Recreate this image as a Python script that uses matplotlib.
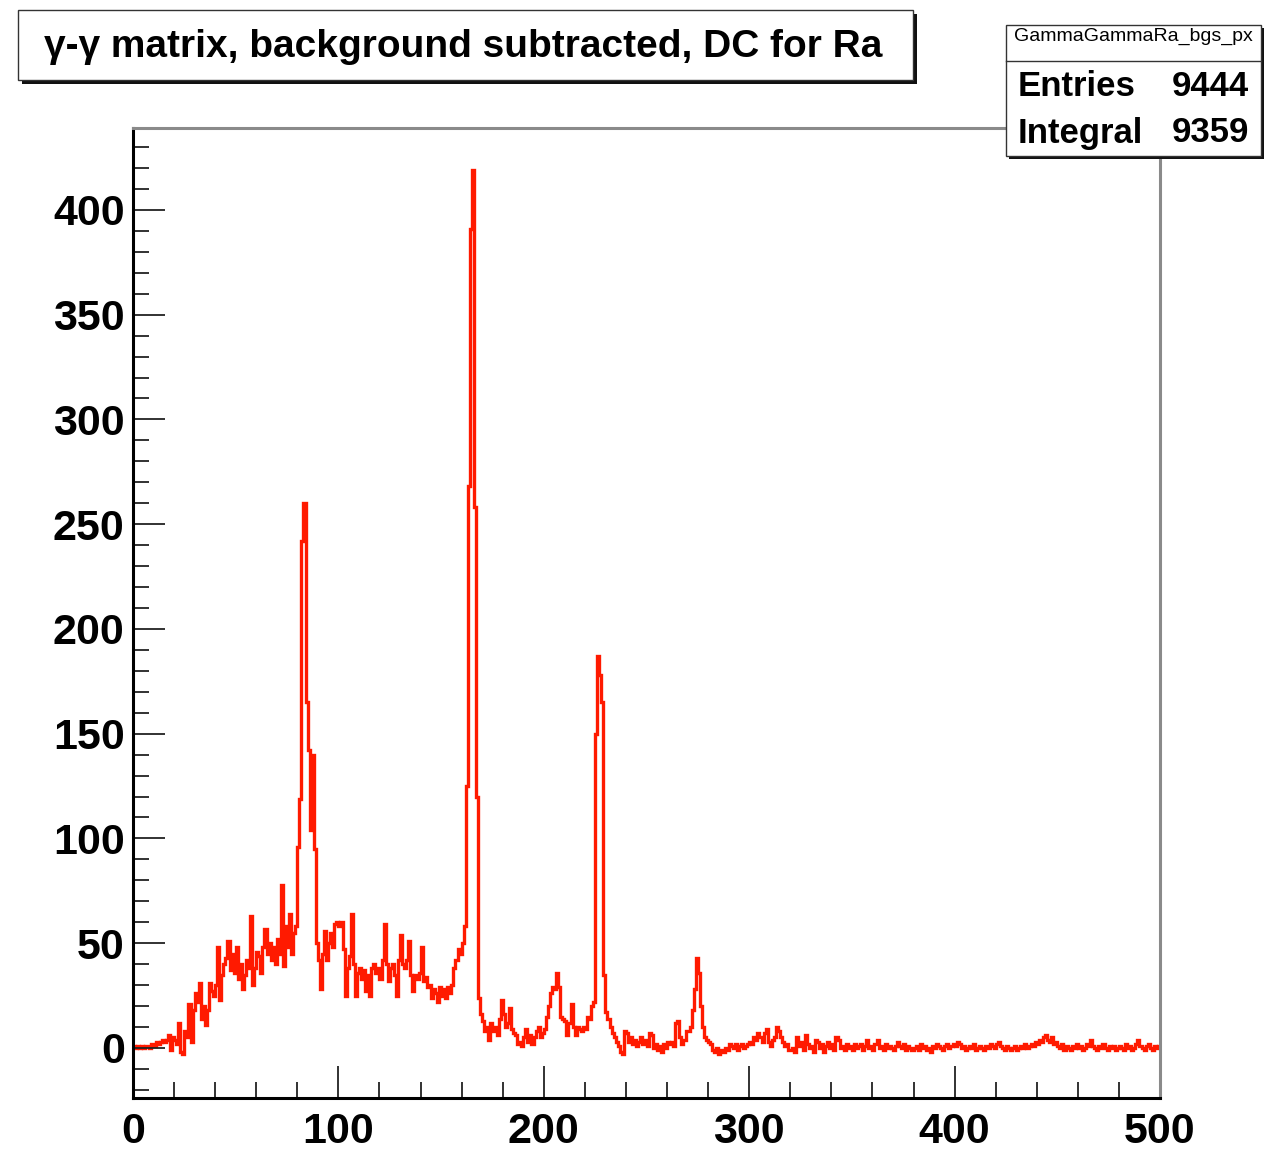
import numpy as np
import matplotlib
matplotlib.use("Agg")
import matplotlib.pyplot as plt
from matplotlib.patches import Rectangle
from matplotlib.ticker import MultipleLocator

# Background-subtracted gamma-gamma projection, 1 unit per bin (0..500)
counts_000_099 = [
    1, 0, 1, 0, 1, 0, 1, 1, 0, 2, 1, 3, 2, 3, 4, 3, 4, 6, -1, 5,
    4, 2, 12, -2, -3, 8, 5, 21, 3, 18, 26, 22, 31, 14, 20, 11, 18, 31, 27, 25,
    30, 48, 23, 35, 40, 43, 51, 37, 45, 36, 48, 33, 40, 28, 35, 42, 38, 63, 30, 38,
    46, 44, 36, 48, 57, 45, 50, 42, 48, 40, 52, 45, 78, 39, 58, 48, 64, 45, 55, 58,
    96, 119, 242, 260, 165, 142, 104, 140, 95, 50, 42, 28, 45, 56, 42, 50, 55, 48, 59, 60,
]
counts_100_199 = [
    58, 60, 47, 25, 38, 44, 64, 40, 25, 36, 38, 33, 37, 27, 35, 25, 38, 40, 36, 38,
    33, 42, 59, 40, 32, 38, 40, 35, 25, 42, 54, 40, 38, 42, 51, 35, 27, 35, 33, 36,
    48, 32, 34, 29, 30, 24, 28, 26, 22, 29, 25, 28, 24, 29, 26, 30, 38, 42, 47, 45,
    50, 58, 125, 268, 391, 419, 258, 120, 24, 16, 13, 8, 10, 4, 12, 8, 10, 6, 14, 23,
    16, 10, 12, 19, 9, 7, 6, 2, 3, 1, 5, 9, 3, 6, 2, 5, 8, 10, 5, 7,
]
counts_200_299 = [
    9, 15, 20, 26, 29, 28, 36, 29, 15, 14, 13, 6, 12, 21, 10, 6, 10, 9, 8, 10,
    9, 15, 14, 20, 22, 150, 187, 178, 165, 35, 17, 14, 10, 7, 5, 3, 1, -2, -3, 8,
    7, 3, 5, 2, 4, 1, 3, 5, 2, 4, 1, 7, 6, 0, 2, -1, 1, -2, 2, 0,
    3, 2, 3, 1, 12, 13, 5, 2, 4, 8, 8, 10, 18, 28, 43, 36, 20, 10, 5, 4,
    3, 2, -1, -2, 0, -3, -1, -2, 0, -1, 2, 1, 0, 2, -1, 1, 2, 0, 1, 2,
]
counts_300_399 = [
    3, 2, 5, 4, 7, 5, 3, 7, 9, 3, 1, 4, 5, 10, 8, 5, 3, 1, 2, -1,
    -1, 0, -2, 5, 1, 3, -1, 6, 2, 0, 1, -2, 4, 3, 0, 2, -2, 1, 3, 0,
    2, -1, 5, 4, 0, 1, -1, 2, 0, 1, -1, 2, 0, 1, 2, -1, 1, 4, 0, 1,
    -1, 2, 4, 0, 1, -1, 2, 0, 1, 0, -1, 1, 3, 1, 0, 2, -1, 1, 0, -1,
    0, 1, -1, 2, 0, 1, -1, 0, -2, 1, 0, 2, 1, 0, -1, 1, 2, 0, 1, 2,
]
counts_400_499 = [
    1, 3, 2, 0, 1, -1, 0, 1, 0, 2, -1, 0, 1, 0, -1, 1, 0, 2, 1, 0,
    2, 3, 1, 0, -1, 1, 0, -1, 0, 1, -1, 0, 1, 0, 2, 0, 1, 2, 1, 3,
    2, 4, 3, 5, 6, 4, 3, 5, 2, 3, 1, 0, 2, -1, 1, 0, -1, 1, 0, 2,
    0, 1, -1, 0, 2, 1, 4, 1, 0, -1, 1, 0, 2, 0, -1, 1, 0, 1, -1, 0,
    1, 0, -1, 2, 0, 1, -1, 0, 2, 4, 1, 0, -1, 1, 2, 0, -1, 1, 0, 1,
]
counts = np.array(counts_000_099 + counts_100_199 + counts_200_299
                  + counts_300_399 + counts_400_499, dtype=float)
edges = np.arange(0, len(counts) + 1, 1)

title_text = "\u03b3-\u03b3 matrix, background subtracted, DC for Ra"
hist_name = "GammaGammaRa_bgs_px"
stat_labels = ["Entries", "Integral"]
stat_values = ["9444", "9359"]
xticks = [0, 100, 200, 300, 400, 500]
yticks = [0, 50, 100, 150, 200, 250, 300, 350, 400]

W, H = 1279, 1150
FONT = ["Liberation Sans", "DejaVu Sans"]
plt.rcParams["font.family"] = FONT

fig = plt.figure(figsize=(W / 100, H / 100), dpi=100)
fig.patch.set_facecolor("white")


def fx(px):
    return px / W


def fy(py):
    return 1 - py / H


# Frame in pixel bounds
L, R, T, B = 133, 1160, 128, 1098
ax = fig.add_axes([fx(L), fy(B), fx(R) - fx(L), fy(T) - fy(B)])
ax.stairs(counts, edges, color="#ff1a00", lw=2.4)
ax.set_xlim(0, 500)
ax.set_ylim(-23.9, 439.1)

for side in ("left", "bottom"):
    ax.spines[side].set_color("black")
    ax.spines[side].set_linewidth(2.2)
for side in ("top", "right"):
    ax.spines[side].set_color("#8a8a8a")
    ax.spines[side].set_linewidth(2.2)

ax.set_xticks(xticks)
ax.set_yticks(yticks)
ax.xaxis.set_minor_locator(MultipleLocator(20))
ax.yaxis.set_minor_locator(MultipleLocator(10))
ax.tick_params(which="major", direction="in", length=23, width=1.3,
               color="#222222", top=False, right=False)
ax.tick_params(which="minor", direction="in", length=11.5, width=1.3,
               color="#222222", top=False, right=False)
ax.tick_params(axis="x", which="major", pad=10)
ax.tick_params(axis="y", which="major", pad=6)
for lab in ax.get_xticklabels() + ax.get_yticklabels():
    lab.set_fontsize(31)
    lab.set_fontweight("bold")

# Title box with drop shadow
tx0, ty0, tx1, ty1 = 18, 10, 913, 80
fig.add_artist(Rectangle((fx(tx0 + 4), fy(ty1 + 4)), fx(tx1 - tx0), fy(ty0) - fy(ty1),
                         transform=fig.transFigure, facecolor="#111111",
                         edgecolor="none", zorder=5))
fig.add_artist(Rectangle((fx(tx0), fy(ty1)), fx(tx1 - tx0), fy(ty0) - fy(ty1),
                         transform=fig.transFigure, facecolor="white",
                         edgecolor="#333333", lw=1.0, zorder=6))
fig.text(fx(463), fy(47), title_text, ha="center",
         va="center", fontsize=28, fontweight="bold", zorder=7)

# Statistics box with drop shadow
sx0, sy0, sx1, sy1 = 1006, 25, 1261, 156
fig.add_artist(Rectangle((fx(sx0 + 3), fy(sy1 + 3)), fx(sx1 - sx0), fy(sy0) - fy(sy1),
                         transform=fig.transFigure, facecolor="#111111",
                         edgecolor="none", zorder=5))
fig.add_artist(Rectangle((fx(sx0), fy(sy1)), fx(sx1 - sx0), fy(sy0) - fy(sy1),
                         transform=fig.transFigure, facecolor="white",
                         edgecolor="#333333", lw=1.0, zorder=6))
fig.add_artist(plt.Line2D([fx(sx0), fx(sx1)], [fy(61), fy(61)],
                          transform=fig.transFigure, color="#333333", lw=1.0, zorder=7))
fig.text(fx((sx0 + sx1) / 2), fy(36), hist_name, ha="center", va="center",
         fontsize=14, zorder=7)
for i, (lab, val) in enumerate(zip(stat_labels, stat_values)):
    yy = 87 + i * 46
    fig.text(fx(1018), fy(yy), lab, ha="left", va="center", fontsize=25,
             fontweight="bold", zorder=7)
    fig.text(fx(1249), fy(yy), val, ha="right", va="center", fontsize=25,
             fontweight="bold", zorder=7)

fig.savefig("out.png", dpi=100, facecolor="white")
